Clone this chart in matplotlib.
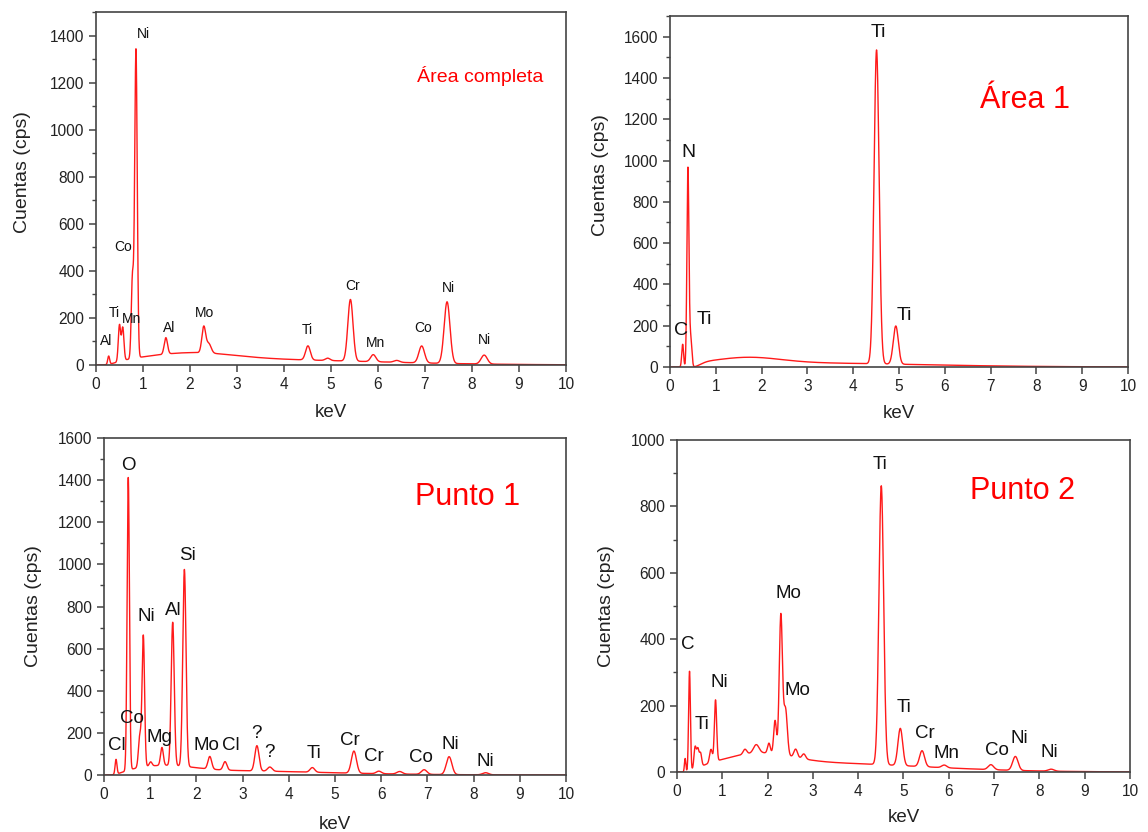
import numpy as np
import matplotlib
matplotlib.use("Agg")
import matplotlib.pyplot as plt
from matplotlib.ticker import MultipleLocator

plt.rcParams["font.family"] = ["Liberation Sans", "DejaVu Sans"]

# ---------------- spectrum data (energy in keV, net peak height in cps, peak sigma in keV)
# Área completa
area_completa_kev = [0.27, 0.50, 0.57, 0.776, 0.851, 1.487, 2.293, 2.40, 4.51, 4.93, 5.414, 5.90, 6.40, 6.93, 7.47, 8.26]
area_completa_cps = [35, 155, 140, 340, 1310, 70, 110, 40, 60, 10, 262, 30, 8, 72, 262, 38]
area_completa_sig = [0.02, 0.025, 0.025, 0.025, 0.027, 0.035, 0.04, 0.05, 0.05, 0.05, 0.055, 0.055, 0.06, 0.06, 0.062, 0.065]
area_completa_bg = ([2.0, 3.0], [30, 24], [0.9, 2.8])
area_completa_labels = ["Al", "Ti", "Mn", "Co", "Ni", "Al", "Mo", "Ti", "Cr", "Mn", "Co", "Ni", "Ni"]
area_completa_label_xy = [(0.21, 102), (0.38, 220), (0.76, 195), (0.57, 500), (1.0, 1408), (1.55, 157),
                          (2.30, 220), (4.49, 148), (5.47, 335), (5.94, 93), (6.96, 157), (7.51, 327), (8.26, 106)]

# Área 1
area1_kev = [0.277, 0.392, 0.452, 4.51, 4.93]
area1_cps = [110, 960, 140, 1520, 185]
area1_sig = [0.02, 0.022, 0.025, 0.055, 0.055]
area1_bg = ([1.7, 2.5], [28, 20], [0.7, 2.8])
area1_labels = ["C", "N", "Ti", "Ti", "Ti"]
area1_label_xy = [(0.24, 179), (0.41, 1037), (0.76, 228), (4.54, 1619), (5.11, 247)]

# Punto 1
punto1_kev = [0.26, 0.525, 0.776, 0.851, 1.01, 1.254, 1.487, 1.74, 2.29, 2.62, 3.31, 3.59, 4.51, 5.41, 5.95, 6.40, 6.93, 7.47, 8.26]
punto1_cps = [70, 1390, 150, 620, 20, 85, 680, 935, 60, 40, 120, 20, 22, 105, 12, 12, 22, 85, 10]
punto1_sig = [0.02, 0.025, 0.03, 0.027, 0.03, 0.03, 0.033, 0.035, 0.04, 0.04, 0.045, 0.05, 0.05, 0.055, 0.055, 0.06, 0.06, 0.06, 0.065]
punto1_bg = ([1.3, 2.0], [25, 22], [0.6, 2.5])
punto1_labels = ["Cl", "O", "Co", "Ni", "Mg", "Al", "Si", "Mo", "Cl", "?", "?", "Ti", "Cr", "Cr", "Co", "Ni", "Ni"]
punto1_label_xy = [(0.28, 142), (0.52, 1472), (0.61, 266), (0.91, 755), (1.21, 180), (1.49, 783), (1.80, 1040),
                   (2.21, 138), (2.75, 138), (3.29, 199), (3.59, 109), (4.55, 100), (5.32, 166), (5.84, 90),
                   (6.86, 85), (7.49, 147), (8.25, 66)]

# Punto 2
punto2_kev = [0.18, 0.277, 0.40, 0.46, 0.52, 0.75, 0.851, 1.50, 1.75, 2.03, 2.165, 2.293, 2.395, 2.62, 2.80,
              4.51, 4.93, 5.41, 5.90, 6.93, 7.47, 8.26]
punto2_cps = [40, 300, 65, 55, 40, 40, 185, 15, 25, 30, 100, 420, 140, 25, 15, 840, 112, 48, 8, 15, 42, 6]
punto2_sig = [0.015, 0.02, 0.025, 0.025, 0.025, 0.03, 0.025, 0.04, 0.06, 0.03, 0.03, 0.035, 0.04, 0.04, 0.04,
              0.052, 0.052, 0.055, 0.055, 0.06, 0.06, 0.065]
punto2_bg = ([1.8, 2.8], [32, 28], [0.7, 2.5])
punto2_labels = ["C", "Ti", "Ni", "Mo", "Mo", "Ti", "Ti", "Cr", "Mn", "Co", "Ni", "Ni"]
punto2_label_xy = [(0.24, 383), (0.55, 142), (0.93, 271), (2.45, 539), (2.67, 247), (4.48, 925), (5.01, 193),
                   (5.47, 117), (5.96, 57), (7.06, 66), (7.55, 102), (8.23, 60)]

energy = np.linspace(0.0, 10.0, 4001)


def spectrum(kev, cps, sig, bg, edge):
    """Sum of Gaussian lines on a broad continuum that fades in above the detector edge."""
    e0, w = edge
    cont = np.zeros_like(energy)
    for c, h, s in zip(*bg):
        cont += h * np.exp(-0.5 * ((energy - c) / s) ** 2)
    fade = np.where(energy > e0, 1.0 - np.exp(-((energy - e0) / w) ** 2), 0.0)
    y = cont * fade
    for c, h, s in zip(kev, cps, sig):
        y += h * np.exp(-0.5 * ((energy - c) / s) ** 2)
    return y


fig = plt.figure(figsize=(11.48, 8.32), dpi=100)

panels = [
    dict(rect=[0.0836, 0.5613, 0.4094, 0.4243], data=(area_completa_kev, area_completa_cps, area_completa_sig, area_completa_bg),
         edge=(0.10, 0.40), ylim=1500, labels=area_completa_labels, label_xy=area_completa_label_xy, lfs=10,
         title="Área completa", title_xy=(8.17, 1230), tfs=14, ypad=13.4, xpad=9.0, ylab_y=0.547),
    dict(rect=[0.5836, 0.5589, 0.3990, 0.4219], data=(area1_kev, area1_cps, area1_sig, area1_bg),
         edge=(0.48, 0.22), ylim=1700, labels=area1_labels, label_xy=area1_label_xy, lfs=14,
         title="Área 1", title_xy=(7.75, 1294), tfs=22, ypad=10.5, xpad=8.3, ylab_y=0.547),
    dict(rect=[0.0906, 0.0685, 0.4024, 0.4050], data=(punto1_kev, punto1_cps, punto1_sig, punto1_bg),
         edge=(0.10, 0.35), ylim=1600, labels=punto1_labels, label_xy=punto1_label_xy, lfs=13.5,
         title="Punto 1", title_xy=(7.88, 1320), tfs=22, ypad=11.2, xpad=10.5, ylab_y=0.5),
    dict(rect=[0.5897, 0.0721, 0.3946, 0.3990], data=(punto2_kev, punto2_cps, punto2_sig, punto2_bg),
         edge=(0.10, 0.40), ylim=1000, labels=punto2_labels, label_xy=punto2_label_xy, lfs=13.5,
         title="Punto 2", title_xy=(7.62, 846), tfs=22, ypad=11.2, xpad=7.6, ylab_y=0.5),
]

for p in panels:
    ax = fig.add_axes(p["rect"])
    kev, cps, sig, bg = p["data"]
    ax.plot(energy, spectrum(kev, cps, sig, bg, p["edge"]), color="#ff1a1a", lw=1.0)
    ax.set_xlim(0, 10)
    ax.set_ylim(0, p["ylim"])
    ax.xaxis.set_major_locator(MultipleLocator(1))
    ax.yaxis.set_major_locator(MultipleLocator(200))
    ax.yaxis.set_minor_locator(MultipleLocator(100))
    ax.tick_params(which="major", direction="out", length=5, width=1.1, color="#444444",
                   labelsize=11.2, labelcolor="#222222")
    ax.tick_params(which="minor", direction="out", length=3, width=1.0, color="#444444")
    ax.tick_params(axis="x", which="minor", bottom=False)
    for sp in ax.spines.values():
        sp.set_color("#444444")
        sp.set_linewidth(1.2)
    ax.set_xlabel("keV", fontsize=13.5, color="#222222", labelpad=p["xpad"])
    ax.set_ylabel("Cuentas (cps)", fontsize=14, color="#222222", labelpad=p["ypad"])
    ax.yaxis.label.set_y(p["ylab_y"])
    for txt, (x, y) in zip(p["labels"], p["label_xy"]):
        ax.text(x, y, txt, fontsize=p["lfs"], ha="center", va="center", color="#111111")
    ax.text(*p["title_xy"], p["title"], fontsize=p["tfs"], ha="center", va="center", color="#ff0000")

fig.savefig("out.png", dpi=100)
